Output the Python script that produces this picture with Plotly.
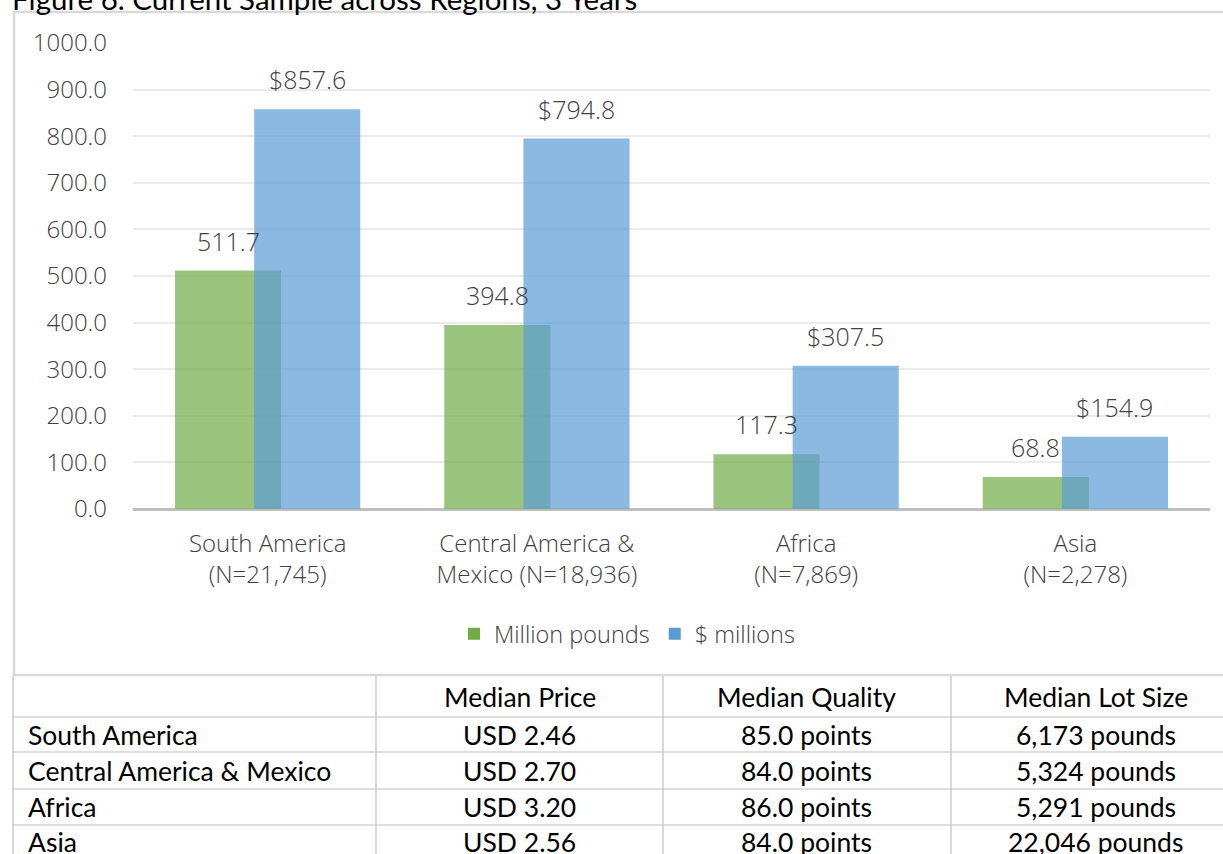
import plotly.graph_objects as go

# ---------------- data ----------------
regions = ["South America<br>(N=21,745)", "Central America &<br>Mexico (N=18,936)",
           "Africa<br>(N=7,869)", "Asia<br>(N=2,278)"]
million_pounds = [511.7, 394.8, 117.3, 68.8]
usd_millions = [857.6, 794.8, 307.5, 154.9]
y_ticks = [0, 100, 200, 300, 400, 500, 600, 700, 800, 900, 1000]

table_header = ["", "Median Price", "Median Quality", "Median Lot Size"]
table_rows = ["South America", "Central America & Mexico", "Africa", "Asia"]
median_price = ["USD 2.46", "USD 2.70", "USD 3.20", "USD 2.56"]
median_quality = ["85.0 points", "84.0 points", "86.0 points", "84.0 points"]
median_lot = ["6,173 pounds", "5,324 pounds", "5,291 pounds", "22,046 pounds"]

title_text = "Figure 6. Current Sample across Regions, 3 Years"

# ---------------- layout helpers ----------------
W, H = 1223, 854
def px(x):
    return x / W
def py(y):
    return 1 - y / H

FONT = "Open Sans"
TFONT = "Lato"
GREEN = "#70AD47"
BLUE = "#5B9BD5"
TXT = "#404040"

bar_w = 0.394
off_green = -0.344
off_blue = -0.050
xs = list(range(len(regions)))

fig = go.Figure()
fig.add_trace(go.Bar(x=xs, y=million_pounds, name="Million pounds",
                     marker=dict(color=GREEN, opacity=0.7, line=dict(width=0)),
                     width=bar_w, offset=off_green))
fig.add_trace(go.Bar(x=xs, y=usd_millions, name="$ millions",
                     marker=dict(color=BLUE, opacity=0.7, line=dict(width=0)),
                     width=bar_w, offset=off_blue))

lab_font = dict(family=FONT, size=25, color=TXT, weight=300)
annotations = []
for i, v in enumerate(million_pounds):
    annotations.append(dict(x=i + off_green + bar_w / 2, y=v, xref="x", yref="y",
                            text=f"{v:.1f}", showarrow=False, yanchor="bottom",
                            yshift=11, font=lab_font))
for i, v in enumerate(usd_millions):
    annotations.append(dict(x=i + off_blue + bar_w / 2, y=v, xref="x", yref="y",
                            text=f"${v:.1f}", showarrow=False, yanchor="bottom",
                            yshift=11, font=lab_font))

shapes = []
# chart frame
shapes.append(dict(type="rect", xref="paper", yref="paper", x0=px(14), x1=px(1240),
                   y0=py(675), y1=py(12), line=dict(color="#D9D9D9", width=2.5),
                   fillcolor="rgba(0,0,0,0)", layer="below"))

# table
col_x = [13, 376, 663, 951, 1240]
row_y = [676, 717, 752, 789, 825, 862]
LINE = "#BFBFBF"
for yy in row_y[1:-1]:
    shapes.append(dict(type="line", xref="paper", yref="paper", x0=px(13), x1=px(1240),
                       y0=py(yy), y1=py(yy), line=dict(color=LINE, width=1.2)))
for xx in col_x[:-1]:
    shapes.append(dict(type="line", xref="paper", yref="paper", x0=px(xx), x1=px(xx),
                       y0=py(676), y1=py(870), line=dict(color=LINE, width=1.2)))

tab_font = dict(family=TFONT, size=26.5, color="#000000")
columns = [table_rows, median_price, median_quality, median_lot]
for c, head in enumerate(table_header):
    if head:
        annotations.append(dict(x=px((col_x[c] + col_x[c + 1]) / 2), y=py((row_y[0] + row_y[1]) / 2),
                                xref="paper", yref="paper", text=head, showarrow=False,
                                xanchor="center", yanchor="middle", font=tab_font))
for c, col in enumerate(columns):
    for r, val in enumerate(col):
        last = r == len(col) - 1
        # keep the last (cut-off) row's box inside the page
        yc = py(854) if last else py((row_y[r + 1] + row_y[r + 2]) / 2)
        ya = "bottom" if last else "middle"
        ysh = -6 if last else 0
        xa = "left" if c == 0 else "center"
        xx = px(26) if c == 0 else px((col_x[c] + col_x[c + 1]) / 2)
        annotations.append(dict(x=xx, y=yc, xref="paper", yref="paper", text=val,
                                showarrow=False, xanchor=xa, yanchor=ya, yshift=ysh,
                                font=tab_font))

fig.update_layout(
    width=W, height=H,
    margin=dict(l=0, r=0, t=0, b=0, autoexpand=False),
    paper_bgcolor="white", plot_bgcolor="white",
    barmode="overlay",
    showlegend=True,
    title=dict(text=title_text, x=px(12), xanchor="left", xref="paper",
               yref="container", y=1, yanchor="middle", automargin=False,
               font=dict(family=TFONT, size=29.5, color="#000000")),
    legend=dict(orientation="h", x=px(627), y=py(634), xanchor="center", yanchor="middle",
                font=dict(family=FONT, size=23.5, color=TXT, weight=300),
                bgcolor="rgba(0,0,0,0)", itemwidth=30),
    xaxis=dict(domain=[px(133), px(1210)], range=[-0.5, 3.5], tickvals=xs, ticktext=regions,
               showgrid=False, zeroline=False, showline=False, ticks="", automargin=False,
               tickfont=dict(family=FONT, size=24, color=TXT, weight=300),
               ticklabelstandoff=18),
    yaxis=dict(domain=[py(509), py(43)], range=[0, 1000], tickvals=y_ticks,
               tickformat=".1f", showgrid=True, gridcolor="#EBEBEB", gridwidth=2,
               zeroline=True, zerolinecolor="#BFBFBF", zerolinewidth=3, automargin=False,
               showline=False, ticks="", ticklabelstandoff=25,
               tickfont=dict(family=FONT, size=24, color=TXT, weight=300)),
    annotations=annotations,
    shapes=shapes,
)

fig.write_html("out.html",
               config={"displayModeBar": False},
               post_script="document.body.style.margin='0px';"
                           "document.body.style.overflow='hidden';"
                           "document.documentElement.style.overflow='hidden';")
